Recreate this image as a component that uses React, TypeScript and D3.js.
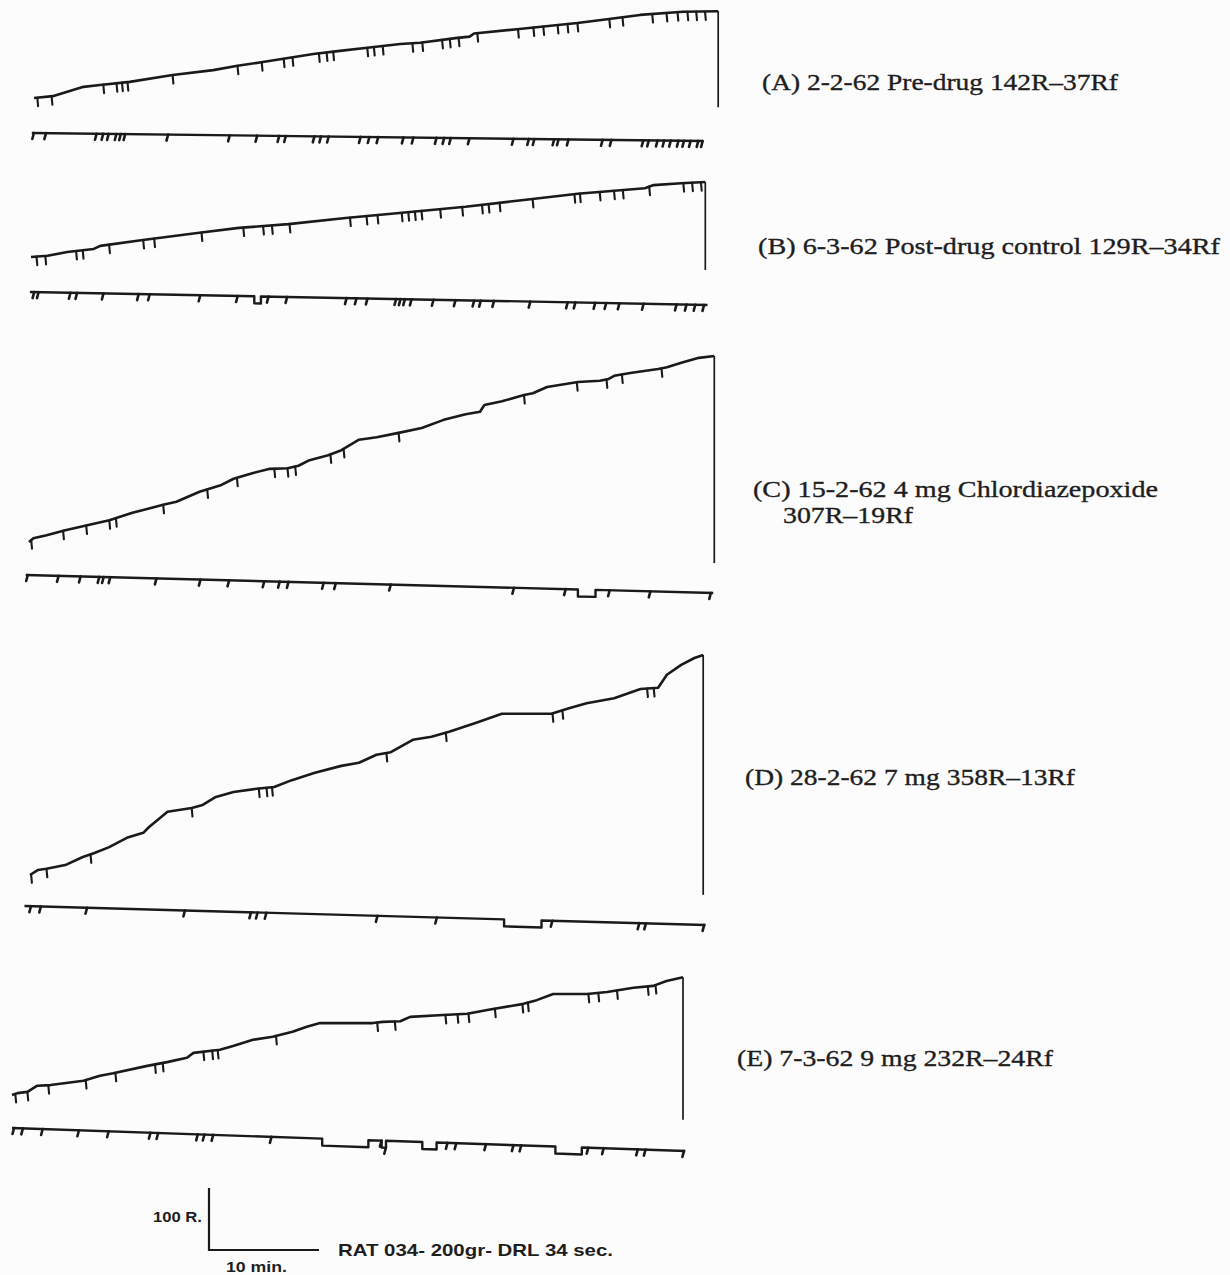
import React from "react";
import * as d3 from "d3";

type Pt = [number, number];

// Recorder scale: 10 min of paper = 110 px, 100 responses = 62 px
const PX_PER_10MIN = 110;
const PX_PER_100R = 62;

// ---------- (A) 2-2-62 Pre-drug ----------
const curveA: Pt[] = [
  [0, 0], [1.7, 3], [4.5, 18], [6.0, 21], [8.7, 26], [12.6, 37], [16.3, 45], [18.5, 52],
  [20.8, 58], [25.4, 71], [27.8, 76], [30.3, 81], [33.3, 87], [35.1, 89], [38.5, 97], [39.6, 99],
  [40.0, 104], [43.9, 111], [49.4, 121], [52.1, 127], [55.1, 134], [59.0, 139], [62.2, 140],
];
const reinfA = [
  0.3, 1.6, 6.3, 7.5, 8.0, 8.5, 12.6, 18.5, 20.7, 22.7, 23.5, 25.9, 26.6, 27.2, 30.3, 30.9, 31.7,
  34.4, 35.3, 37.1, 37.8, 38.6, 40.3, 44.0, 45.4, 46.3, 47.6, 48.5, 49.4, 52.3, 53.5, 56.2, 57.5,
  58.5, 59.4, 60.2, 61.0,
];
const eventA = [
  -0.1, 1.0, 5.6, 6.2, 6.7, 7.4, 7.8, 8.2, 12.1, 17.7, 20.2, 22.2, 22.8, 25.4, 26.0, 26.7, 29.6,
  30.4, 31.2, 33.5, 34.4, 36.5, 37.2, 37.8, 39.5, 43.5, 44.9, 45.4, 47.2, 47.6, 48.5, 51.6, 52.4,
  55.3, 55.8, 56.6, 57.2, 57.8, 58.5, 59.0, 59.6, 60.3, 60.7,
];
const eventStepsA: Pt[] = [];

// ---------- (B) 6-3-62 Post-drug control ----------
const curveB: Pt[] = [
  [0, 0], [1.5, 2], [3.3, 8], [5.7, 13], [6.3, 18], [10.0, 27], [15.3, 39], [18.9, 47], [23.4, 53],
  [28.6, 63], [33.5, 71], [39.5, 81], [44.8, 92], [49.7, 102], [55.8, 111], [56.6, 116],
  [59.1, 119], [61.3, 121],
];
const reinfB = [
  0.5, 1.3, 4.1, 4.7, 7.1, 10.2, 11.2, 15.5, 19.3, 21.1, 21.9, 23.5, 29.0, 30.5, 31.5, 33.7, 34.3,
  34.9, 35.5, 37.2, 39.2, 41.0, 41.6, 42.6, 45.6, 49.4, 49.9, 51.7, 53.0, 53.8, 56.2, 59.3, 60.1,
  60.9,
];
const eventB = [
  0.2, 0.6, 3.5, 4.1, 6.5, 9.7, 10.7, 15.3, 18.7, 21.5, 23.2, 28.6, 29.5, 30.5, 33.1, 33.5, 33.9,
  34.5, 36.5, 38.5, 40.2, 40.8, 42.0, 45.3, 48.7, 49.4, 51.2, 52.2, 53.4, 55.6, 58.6, 59.5, 60.3,
  61.1,
];
const eventStepsB: Pt[] = [[20.3, 20.9]];

// ---------- (C) 15-2-62 4 mg Chlordiazepoxide ----------
const curveC: Pt[] = [
  [0, 0], [0.4, 6], [1.6, 11], [3.3, 19], [5.3, 27], [7.3, 35], [9.4, 47], [12.2, 60], [13.4, 65],
  [15.5, 81], [17.5, 92], [18.6, 102], [20.3, 111], [21.9, 118], [23.5, 119], [24.5, 123],
  [25.5, 132], [27.2, 140], [28.4, 148], [30.0, 165], [31.6, 169], [33.6, 176], [35.7, 184],
  [37.7, 197], [39.7, 206], [41.0, 210], [41.4, 221], [43.0, 227], [45.0, 237], [45.8, 240],
  [47.1, 250], [49.9, 258], [51.9, 260], [52.7, 263], [53.2, 268], [54.8, 273], [57.2, 279],
  [58.0, 282], [59.3, 289], [60.9, 297], [62.3, 300],
];
const reinfC = [
  0.2, 3.1, 5.2, 7.3, 7.9, 12.2, 16.2, 18.9, 22.3, 23.5, 24.2, 27.4, 28.6, 33.6, 45.0, 49.8, 52.5,
  53.9, 57.5,
];
const eventC = [
  -0.2, 2.6, 4.6, 6.3, 6.7, 7.3, 11.5, 15.5, 18.1, 21.3, 22.7, 23.5, 26.7, 27.8, 32.8, 44.0, 48.7,
  52.7, 56.4, 61.9,
];
const eventStepsC: Pt[] = [[49.9, 51.5]];

// ---------- (D) 28-2-62 7 mg ----------
const curveD: Pt[] = [
  [0, 0], [0.7, 8], [1.5, 10], [3.2, 16], [4.8, 29], [5.8, 35], [7.2, 45], [8.8, 60], [10.3, 68],
  [10.8, 77], [12.5, 102], [14.7, 108], [15.7, 113], [16.9, 126], [18.5, 134], [20.6, 139],
  [22.2, 142], [23.8, 153], [25.9, 165], [28.3, 176], [29.9, 181], [31.5, 194], [32.8, 198],
  [34.8, 218], [36.5, 223], [38.1, 231], [40.5, 245], [42.9, 260], [47.4, 260], [49.0, 269],
  [50.6, 277], [53.1, 285], [55.5, 300], [57.1, 302], [57.9, 323], [59.2, 339], [60.4, 350],
  [61.2, 355],
];
const reinfD = [0.1, 1.5, 5.5, 14.7, 20.8, 21.5, 22.0, 32.4, 37.8, 47.5, 48.4, 56.1, 56.7];
const eventD = [0.0, 0.9, 5.1, 14.0, 20.0, 20.6, 21.4, 31.5, 36.9, 47.4, 55.3, 55.9, 61.2];
const eventStepsD: Pt[] = [[43.1, 46.5]];

// ---------- (E) 7-3-62 9 mg ----------
const curveE: Pt[] = [
  [0, 0], [0.5, 3], [1.4, 5], [2.3, 15], [3.5, 16], [6.5, 23], [8.0, 31], [9.2, 35], [12.3, 47],
  [14.1, 53], [15.9, 60], [16.5, 68], [18.9, 73], [20.1, 79], [21.9, 89], [23.7, 94], [25.5, 102],
  [26.8, 110], [28.0, 116], [32.8, 116], [33.7, 118], [35.3, 119], [36.2, 126], [39.2, 129],
  [41.4, 131], [43.2, 137], [46.5, 147], [47.7, 153], [49.2, 163], [52.3, 163], [54.1, 166],
  [56.5, 173], [58.3, 176], [59.5, 184], [61.0, 190],
];
const reinfE = [
  0.3, 1.4, 3.3, 6.7, 9.4, 13.0, 13.7, 17.4, 18.2, 18.7, 24.0, 33.2, 34.8, 39.4, 40.5, 41.5, 43.9,
  46.4, 46.9, 52.4, 53.3, 55.0, 57.8, 58.5,
];
const eventE = [
  0.1, 0.9, 2.7, 6.0, 8.7, 12.5, 13.2, 16.8, 17.4, 18.2, 23.5, 33.5, 33.9, 39.5, 40.3, 43.0, 45.5,
  46.2, 52.3, 53.7, 56.8, 57.5, 61.0,
];
const eventStepsE: Pt[] = [[28.2, 32.4], [33.6, 34.0], [37.3, 38.6], [49.4, 51.8]];

// ---------- labels ----------
const labelLines = [
  ["(A) 2-2-62 Pre-drug 142R\u201337Rf"],
  ["(B) 6-3-62 Post-drug control 129R\u201334Rf"],
  ["(C) 15-2-62 4 mg Chlordiazepoxide", "307R\u201319Rf"],
  ["(D) 28-2-62 7 mg 358R\u201313Rf"],
  ["(E) 7-3-62 9 mg 232R\u201324Rf"],
];
const scaleLabels = ["100 R.", "10 min.", "RAT 034- 200gr- DRL 34 sec."];

// ---------- layout (positions only) ----------
type Layout = {
  x0: number; y0: number; resetR: number;
  evStart: number; evEnd: number; evY0: number; evY1: number;
  labelX: number[]; labelY: number[]; labelW: number[];
};
const layouts: Layout[] = [
  { x0: 34, y0: 98, resetR: -15, evStart: -0.2, evEnd: 60.8, evY0: 133, evY1: 141,
    labelX: [762], labelY: [90], labelW: [356] },
  { x0: 31, y0: 257, resetR: -21, evStart: -0.1, evEnd: 61.5, evY0: 292, evY1: 305,
    labelX: [758], labelY: [254], labelW: [462] },
  { x0: 29, y0: 542, resetR: -34, evStart: -0.3, evEnd: 62.2, evY0: 575, evY1: 593,
    labelX: [753, 783], labelY: [497, 523], labelW: [405, 130] },
  { x0: 30, y0: 875, resetR: -32, evStart: -0.5, evEnd: 61.4, evY0: 906, evY1: 925,
    labelX: [745], labelY: [785], labelW: [330] },
  { x0: 12, y0: 1095, resetR: -40, evStart: 0.0, evEnd: 61.2, evY0: 1128, evY1: 1151,
    labelX: [737], labelY: [1066], labelW: [316] },
];

const panels = [
  { curve: curveA, reinf: reinfA, events: eventA, steps: eventStepsA },
  { curve: curveB, reinf: reinfB, events: eventB, steps: eventStepsB },
  { curve: curveC, reinf: reinfC, events: eventC, steps: eventStepsC },
  { curve: curveD, reinf: reinfD, events: eventD, steps: eventStepsD },
  { curve: curveE, reinf: reinfE, events: eventE, steps: eventStepsE },
];

const INK = "#1a1a1a";
const STEP_DEPTH = 7;

function valueAt(curve: Pt[], t: number): number {
  const i = d3.bisector((d: Pt) => d[0]).right(curve, t);
  if (i <= 0) return curve[0][1];
  if (i >= curve.length) return curve[curve.length - 1][1];
  const [t0, r0] = curve[i - 1];
  const [t1, r1] = curve[i];
  return t1 === t0 ? r1 : r0 + ((r1 - r0) * (t - t0)) / (t1 - t0);
}

function stepLevel(steps: Pt[], t: number): number {
  return steps.some(([a, b]) => t > a && t < b) ? 1 : 0;
}

function Panel({ idx }: { idx: number }) {
  const p = panels[idx];
  const L = layouts[idx];
  const xs = d3.scaleLinear().domain([0, 10]).range([L.x0, L.x0 + PX_PER_10MIN]);
  const ys = d3.scaleLinear().domain([0, 100]).range([L.y0, L.y0 - PX_PER_100R]);
  const line = d3.line<Pt>().x((d) => xs(d[0])).y((d) => ys(d[1]));
  const last = p.curve[p.curve.length - 1];
  const curvePath = line(p.curve) || "";
  const resetPath = line([last, [last[0], L.resetR]]) || "";

  // event pen line
  const ey = d3.scaleLinear().domain([L.evStart, L.evEnd]).range([L.evY0, L.evY1]);
  const evPts: Pt[] = [[L.evStart, 0]];
  p.steps.forEach(([a, b]) => {
    evPts.push([a, 0], [a, 1], [b, 1], [b, 0]);
  });
  evPts.push([L.evEnd, 0]);
  const evLine = d3
    .line<Pt>()
    .x((d) => xs(d[0]))
    .y((d) => ey(d[0]) + d[1] * STEP_DEPTH);

  return (
    <g>
      <path d={curvePath} fill="none" stroke={INK} strokeWidth={2.6} strokeLinejoin="round" />
      <path d={resetPath} fill="none" stroke={INK} strokeWidth={1.7} />
      {p.reinf.map((t, i) => {
        const x = xs(t);
        const y = ys(valueAt(p.curve, t));
        return (
          <line key={"r" + i} x1={x} y1={y} x2={x + 0.8} y2={y + 8.5} stroke={INK}
            strokeWidth={2.1} strokeLinecap="round" />
        );
      })}
      <path d={evLine(evPts) || ""} fill="none" stroke={INK} strokeWidth={2.4} strokeLinejoin="round" />
      {p.events.map((t, i) => {
        const x = xs(t);
        const y = ey(t) + stepLevel(p.steps, t) * STEP_DEPTH;
        return (
          <line key={"e" + i} x1={x + 1} y1={y} x2={x - 0.6} y2={y + 6} stroke={INK}
            strokeWidth={2.6} strokeLinecap="round" />
        );
      })}
      {labelLines[idx].map((s, j) => (
        <text key={"l" + j} x={L.labelX[j]} y={L.labelY[j]} fontFamily="'Liberation Serif', 'Times New Roman', serif"
          fontSize={24} fill="#1e1e1e" stroke="#1e1e1e" strokeWidth={0.35}
          textLength={L.labelW[j]} lengthAdjust="spacingAndGlyphs">
          {s}
        </text>
      ))}
    </g>
  );
}

function ScaleBar() {
  const ox = 209;
  const oy = 1250;
  const xs = d3.scaleLinear().domain([0, 10]).range([ox, ox + PX_PER_10MIN]);
  const ys = d3.scaleLinear().domain([0, 100]).range([oy, oy - PX_PER_100R]);
  const path = d3.line<Pt>().x((d) => xs(d[0])).y((d) => ys(d[1]))([[0, 100], [0, 0], [10, 0]]) || "";
  const font = "'Liberation Sans', Arial, sans-serif";
  return (
    <g>
      <path d={path} fill="none" stroke={INK} strokeWidth={2.2} />
      <text x={153} y={1222} fontFamily={font} fontWeight="bold" fontSize={15} fill="#1e1e1e"
        textLength={49} lengthAdjust="spacingAndGlyphs">{scaleLabels[0]}</text>
      <text x={226} y={1272} fontFamily={font} fontWeight="bold" fontSize={15} fill="#1e1e1e"
        textLength={61} lengthAdjust="spacingAndGlyphs">{scaleLabels[1]}</text>
      <text x={338} y={1256} fontFamily={font} fontWeight="bold" fontSize={17} fill="#1e1e1e"
        textLength={275} lengthAdjust="spacingAndGlyphs">{scaleLabels[2]}</text>
    </g>
  );
}

export default function App() {
  return (
    <svg width={1230} height={1275} viewBox="0 0 1230 1275"
      style={{ position: "absolute", left: 0, top: 0, background: "#fdfcfd" }}>
      <rect x={0} y={0} width={1230} height={1275} fill="#fdfcfd" />
      {panels.map((_, i) => (
        <Panel key={i} idx={i} />
      ))}
      <ScaleBar />
    </svg>
  );
}
